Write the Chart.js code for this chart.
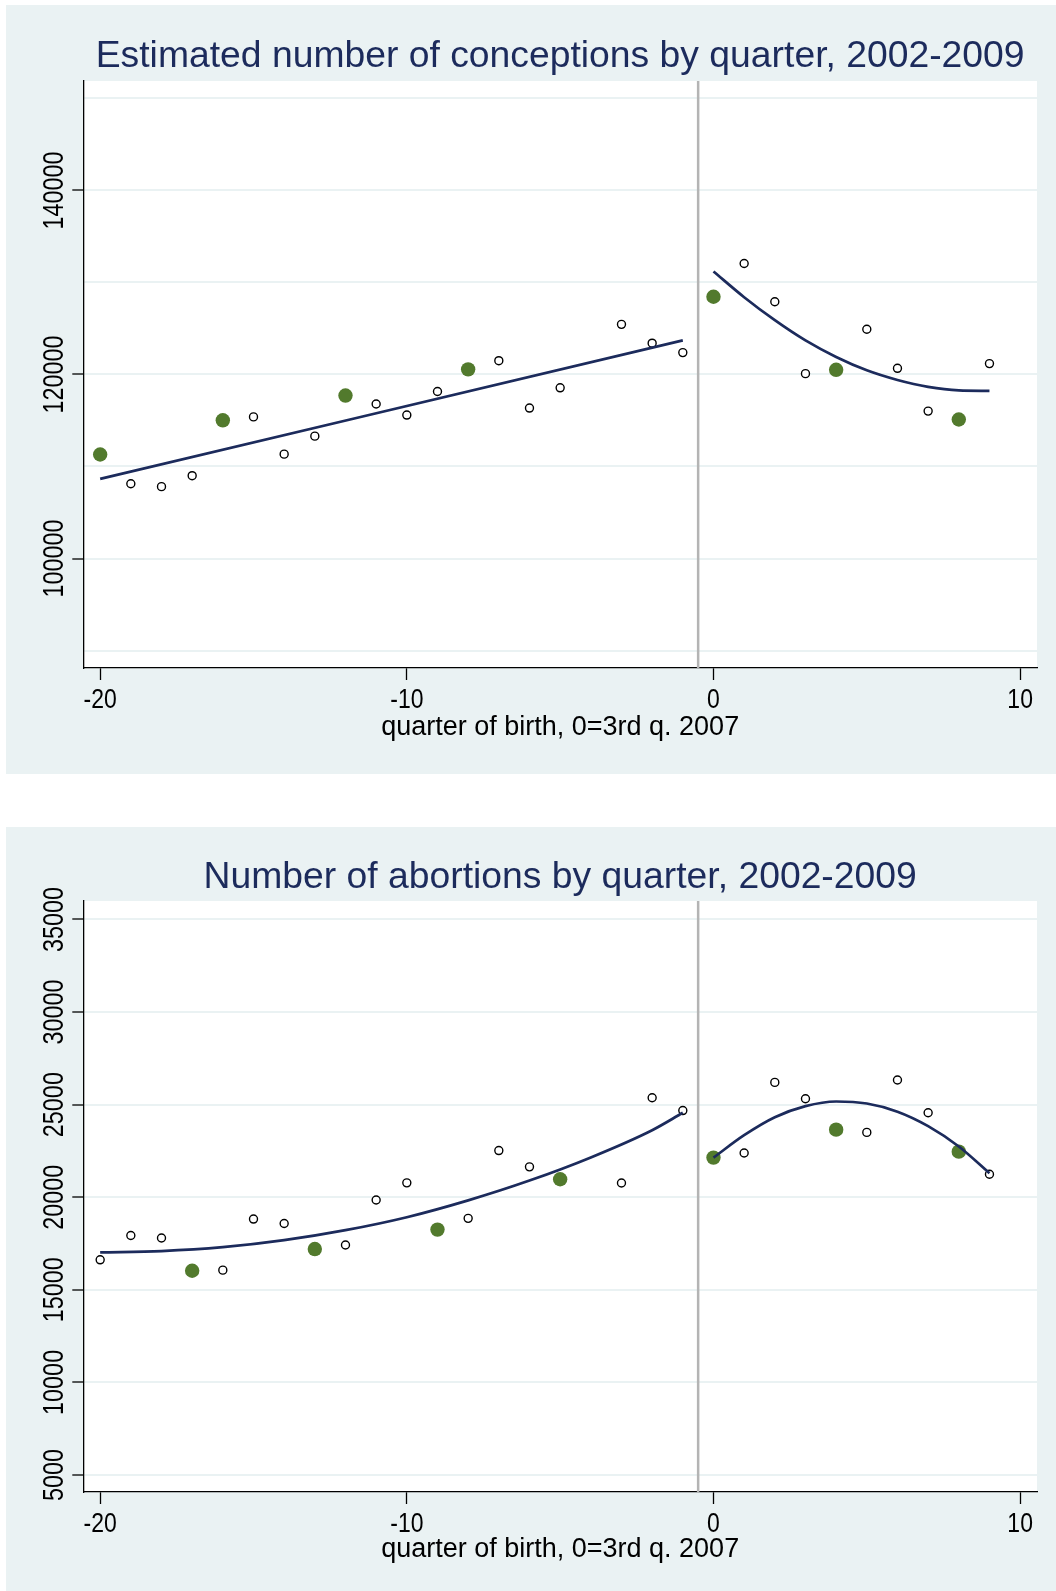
<!DOCTYPE html>
<html>
<head>
<meta charset="utf-8">
<script src="https://cdn.jsdelivr.net/npm/chart.js@4.4.1/dist/chart.umd.min.js"></script>
<style>
    body { margin: 0; background: #ffffff; width: 1056px; height: 1591px; position: relative; overflow: hidden; }
    .panel { position: absolute; left: 6px; width: 1050px; background: #eaf2f3; }
    #p1 { top: 5px; height: 769px; }
    #p2 { top: 827px; height: 764px; }
    canvas { display: block; }
</style>
</head>
<body>
<div class="panel" id="p1"><canvas id="c1" width="1050" height="769"></canvas></div>
<div class="panel" id="p2"><canvas id="c2" width="1050" height="764"></canvas></div>
<script>
// --- shared x axis ---
const quarterTicks = [-20, -10, 0, 10];
const breakQuarter = -0.5;
const xLabel = 'quarter of birth, 0=3rd q. 2007';

// --- conceptions ---
const concOtherQ = [-19, -18, -17, -15, -14, -13, -11, -10, -9, -7, -6, -5, -3, -2, -1, 1, 2, 3, 5, 6, 7, 9];
const concOther = [108120, 107810, 109000, 115390, 111340, 113300, 116790, 115590, 118150, 121500, 116350, 118550, 125450, 123400, 122380, 132060, 127900, 120090, 124920, 120670, 116020, 121180];
const concMarkedQ = [-20, -16, -12, -8, 0, 4, 8];
const concMarked = [111300, 115020, 117710, 120560, 128450, 120510, 115110];
const concFitPreQ = [-20, -1];
const concFitPre = [108650, 123700];
const concFitPostQ = [0, 1, 2, 3, 4, 5, 6, 7, 8, 9];
const concFitPost = [131200, 128400, 125900, 123700, 121900, 120450, 119400, 118650, 118270, 118220];
const concGrid = [90000, 100000, 110000, 120000, 130000, 140000, 150000];
const concTickLabels = [100000, 120000, 140000];

// --- abortions ---
const abortOtherQ = [-20, -19, -18, -16, -15, -14, -12, -11, -10, -8, -7, -6, -3, -2, -1, 1, 2, 3, 5, 6, 7, 9];
const abortOther = [16620, 17930, 17800, 16060, 18820, 18580, 17420, 19850, 20775, 18860, 22520, 21640, 20770, 25370, 24680, 22390, 26200, 25320, 23500, 26330, 24560, 21240];
const abortMarkedQ = [-17, -13, -9, -5, 0, 4, 8];
const abortMarked = [16030, 17200, 18250, 20970, 22140, 23650, 22460];
const abortFitPreQ = [-20, -18, -16, -14, -12, -10, -8, -6, -4, -2, -1];
const abortFitPre = [17020, 17090, 17300, 17680, 18220, 18920, 19830, 20900, 22150, 23620, 24560];
const abortFitPostQ = [0, 1, 2, 3, 4, 5, 6, 7, 8, 9];
const abortFitPost = [22140, 23350, 24320, 24920, 25170, 25060, 24620, 23840, 22740, 21300];
const abortGrid = [5000, 10000, 15000, 20000, 25000, 30000, 35000];
const abortTickLabels = [5000, 10000, 15000, 20000, 25000, 30000, 35000];

const colors = {
    navy: '#1c2b5c',
    green: '#527a2d',
    grid: '#eaf2f3',
    xline: '#b4b4b4',
    axis: '#000000'
};
const sansFont = "'Liberation Sans', Arial, sans-serif";
const narrowSqueeze = 0.82; // Stata's tick labels are a condensed Helvetica

const pts = (xs, ys) => xs.map((x, i) => ({ x: x, y: ys[i] }));

// white plot region on the light panel
const plotRegion = {
    id: 'plotRegion',
    beforeDraw(chart) {
        const a = chart.chartArea;
        chart.ctx.save();
        chart.ctx.fillStyle = '#ffffff';
        chart.ctx.fillRect(a.left, a.top, a.right - a.left, a.bottom - a.top);
        chart.ctx.restore();
    }
};

// tick labels in a condensed face; y labels rotated (reading bottom to top)
const condensedTickLabels = {
    id: 'condensedTickLabels',
    afterDraw(chart, args, opts) {
        const c = chart.ctx;
        const xs = chart.scales.x;
        const ys = chart.scales.y;
        c.save();
        c.fillStyle = colors.axis;
        c.textAlign = 'center';
        c.textBaseline = 'middle';
        c.font = `${opts.xSize}px ${sansFont}`;
        quarterTicks.forEach(v => {
            c.save();
            c.translate(xs.getPixelForValue(v), xs.top + opts.xOffset);
            c.scale(narrowSqueeze, 1);
            c.fillText(String(v), 0, 0);
            c.restore();
        });
        c.font = `${opts.ySize}px ${sansFont}`;
        opts.yValues.forEach(v => {
            c.save();
            c.translate(opts.yX, ys.getPixelForValue(v));
            c.rotate(-Math.PI / 2);
            c.scale(narrowSqueeze - 0.04, 1);
            c.fillText(String(v), 0, 0);
            c.restore();
        });
        c.restore();
    }
};

function buildChart(id, cfg) {
    return new Chart(document.getElementById(id), {
        type: 'scatter',
        data: {
            datasets: [
                { type: 'line', data: cfg.fitPre, borderColor: colors.navy, borderWidth: 2.7, pointRadius: 0, cubicInterpolationMode: 'monotone', order: 1 },
                { type: 'line', data: cfg.fitPost, borderColor: colors.navy, borderWidth: 2.7, pointRadius: 0, cubicInterpolationMode: 'monotone', order: 1 },
                { data: cfg.marked, backgroundColor: colors.green, borderColor: colors.green, borderWidth: 0, pointRadius: 7.2, order: 2 },
                { data: cfg.other, backgroundColor: '#ffffff', borderColor: '#000000', borderWidth: 1.4, pointRadius: 4, order: 3 },
                { type: 'line', data: [{ x: breakQuarter, y: cfg.min }, { x: breakQuarter, y: cfg.max }], borderColor: colors.xline, borderWidth: 2.5, pointRadius: 0, order: 4 }
            ]
        },
        options: {
            responsive: false,
            animation: false,
            events: [],
            layout: { padding: { left: 0, right: 19, top: 0, bottom: 0 } },
            plugins: {
                legend: { display: false },
                tooltip: { enabled: false },
                title: {
                    display: true,
                    text: cfg.title,
                    color: colors.navy,
                    fullSize: false,
                    font: { family: sansFont, size: 37.3, weight: 'normal' },
                    padding: cfg.titlePad
                },
                condensedTickLabels: { yValues: cfg.tickLabels, yX: 49, xOffset: 32, xSize: 28, ySize: 30 }
            },
            scales: {
                x: {
                    type: 'linear',
                    min: -20.55,
                    max: 10.55,
                    afterBuildTicks: s => { s.ticks = quarterTicks.map(v => ({ value: v })); },
                    afterFit: s => { s.height = cfg.xAxisH; },
                    grid: { drawOnChartArea: false, drawTicks: true, tickLength: 12, tickColor: colors.axis, tickWidth: 1.3 },
                    border: { display: true, color: colors.axis, width: 1.3 },
                    ticks: { display: false },
                    title: {
                        display: true,
                        text: xLabel,
                        color: colors.axis,
                        font: { family: sansFont, size: 27 },
                        padding: { top: 0, bottom: cfg.xTitlePad }
                    }
                },
                y: {
                    type: 'linear',
                    min: cfg.min,
                    max: cfg.max,
                    afterBuildTicks: s => { s.ticks = cfg.grid.map(v => ({ value: v })); },
                    afterFit: s => { s.width = 77.3; },
                    ticks: { display: false },
                    grid: {
                        color: colors.grid,
                        lineWidth: 2,
                        drawTicks: true,
                        tickLength: 11,
                        tickWidth: 1.3,
                        tickColor: c => cfg.tickLabels.includes(c.tick.value) ? colors.axis : 'rgba(0,0,0,0)'
                    },
                    border: { display: true, color: colors.axis, width: 1.3 }
                }
            }
        },
        plugins: [plotRegion, condensedTickLabels]
    });
}

buildChart('c1', {
    title: 'Estimated number of conceptions by quarter, 2002-2009',
    titlePad: { top: 29, bottom: 2.2 },
    min: 88100,
    max: 151900,
    grid: concGrid,
    tickLabels: concTickLabels,
    xAxisH: 106,
    xTitlePad: 30,
    fitPre: pts(concFitPreQ, concFitPre),
    fitPost: pts(concFitPostQ, concFitPost),
    marked: pts(concMarkedQ, concMarked),
    other: pts(concOtherQ, concOther)
});

buildChart('c2', {
    title: 'Number of abortions by quarter, 2002-2009',
    titlePad: { top: 28, bottom: 1.2 },
    min: 4080,
    max: 36000,
    grid: abortGrid,
    tickLabels: abortTickLabels,
    xAxisH: 99,
    xTitlePad: 25,
    fitPre: pts(abortFitPreQ, abortFitPre),
    fitPost: pts(abortFitPostQ, abortFitPost),
    marked: pts(abortMarkedQ, abortMarked),
    other: pts(abortOtherQ, abortOther)
});
</script>
</body>
</html>
